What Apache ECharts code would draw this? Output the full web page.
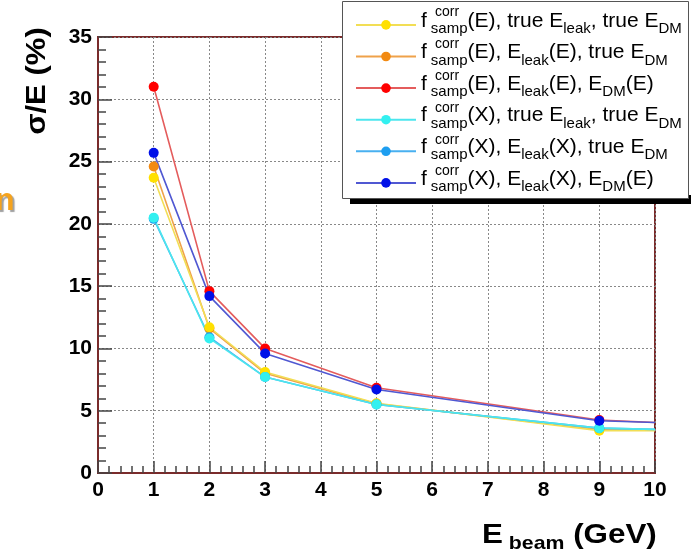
<!DOCTYPE html>
<html>
<head>
<meta charset="utf-8">
<script src="https://cdn.jsdelivr.net/npm/echarts@6/dist/echarts.min.js"></script>
<style>html,body{margin:0;padding:0;background:#fff}#c{width:691px;height:552px}</style>
</head>
<body>
<div id="c"></div>
<script>
// Beam energies (GeV)
const beamEnergy = [1, 2, 3, 5, 9, 10];
// sigma/E (%) for each reconstruction variant
const sampE_trueLeak_trueDM = [23.7, 11.7, 8.1, 5.6, 3.4, 3.4];
const sampE_leakE_trueDM    = [24.6, 11.6, 8.0, 5.55, 3.5, 3.45];
const sampE_leakE_dmE       = [31.0, 14.6, 10.0, 6.85, 4.25, 4.05];
const sampX_trueLeak_trueDM = [20.5, 10.8, 7.7, 5.5, 3.6, 3.5];
const sampX_leakX_trueDM    = [20.4, 10.9, 7.7, 5.5, 3.6, 3.5];
const sampX_leakX_dmE       = [25.7, 14.2, 9.6, 6.7, 4.2, 4.05];
// Axis ticks
const xTicks = {min: 0, max: 10, step: 1};
const yTicks = {min: 0, max: 35, step: 5};

const seriesDefs = [
  {name: 's1', data: sampE_trueLeak_trueDM, marker: '#FFE000', line: '#F2DE55', drawOrder: 1,
   label: '{m|f}{ss|samp}{m|(E), true E}{s|leak}{m|, true E}{s|DM}'},
  {name: 's2', data: sampE_leakE_trueDM, marker: '#F28A12', line: '#EFA24A', drawOrder: 0,
   label: '{m|f}{ss|samp}{m|(E), E}{s|leak}{m|(E), true E}{s|DM}'},
  {name: 's3', data: sampE_leakE_dmE, marker: '#FF0000', line: '#E45C5C', drawOrder: 2,
   label: '{m|f}{ss|samp}{m|(E), E}{s|leak}{m|(E), E}{s|DM}{m|(E)}'},
  {name: 's4', data: sampX_trueLeak_trueDM, marker: '#33F0F0', line: '#4CE6EE', drawOrder: 4,
   label: '{m|f}{ss|samp}{m|(X), true E}{s|leak}{m|, true E}{s|DM}'},
  {name: 's5', data: sampX_leakX_trueDM, marker: '#1E9EF0', line: '#48B0F0', drawOrder: 3,
   label: '{m|f}{ss|samp}{m|(X), E}{s|leak}{m|(X), true E}{s|DM}'},
  {name: 's6', data: sampX_leakX_dmE, marker: '#0010E8', line: '#5058D2', drawOrder: 5,
   label: '{m|f}{ss|samp}{m|(X), E}{s|leak}{m|(X), E}{s|DM}{m|(E)}'}
];
const labelMap = {};
seriesDefs.forEach(d => labelMap[d.name] = d.label);

const frameColor = '#7A2B2B';
const font = '"Liberation Sans", Arial, Helvetica, sans-serif';

const series = seriesDefs.slice().sort((a, b) => a.drawOrder - b.drawOrder).map(d => ({
  name: d.name,
  type: 'line',
  symbol: 'circle',
  symbolSize: 10,
  itemStyle: {color: d.marker},
  lineStyle: {color: d.line, width: 1.6},
  data: d.data.map((v, i) => ({
    value: [beamEnergy[i], v],
    symbol: i === beamEnergy.length - 1 ? 'none' : 'circle'
  })),
  animation: false
}));

const rowY0 = 25, rowGap = 31.8, rowH = 29.2;
const graphics = [
  // legend shadow + box
  {type: 'rect', z: 3, shape: {x: 350, y: 195, width: 345, height: 9}, style: {fill: '#000'}},
  {type: 'rect', z: 3, shape: {x: 342.5, y: 1.5, width: 346, height: 197}, style: {fill: '#fff', stroke: '#555', lineWidth: 1}},
  // y axis title
  {type: 'text', z: 5, x: 38, y: 81, rotation: Math.PI / 2, scaleX: 1.15,
   style: {text: 'σ/E (%)', font: 'bold 27px ' + font, fill: '#000', align: 'center', verticalAlign: 'middle'}},
  // x axis title
  {type: 'text', z: 5, x: 482, y: 537, scaleX: 1.12, originX: 0, originY: 0,
   style: {text: '{b|E}{bs| beam}{b| (GeV)}', fill: '#000', verticalAlign: 'middle',
     rich: {
       b: {font: 'bold 28px ' + font, lineHeight: 30, padding: [0, 0, 4, 0]},
       bs: {font: 'bold 19px ' + font, lineHeight: 30, padding: [14, 0, 0, 0]}
     }}},
  // cropped orange fragment at left edge
  {type: 'text', z: 5, x: -5, y: 185,
   style: {text: 'n', font: 'bold 32px ' + font, fill: '#F5A31E',
     textShadowColor: 'rgba(120,120,120,0.7)', textShadowOffsetX: 2, textShadowOffsetY: 2, textShadowBlur: 1}}
];
seriesDefs.forEach((d, i) => {
  graphics.push({type: 'text', z: 6, x: 435, y: rowY0 + i * rowGap - 12.5,
    style: {text: 'corr', font: '14px ' + font, fill: '#000', verticalAlign: 'middle'}});
});

const chart = echarts.init(document.getElementById('c'), null, {renderer: 'canvas'});
chart.setOption({
  backgroundColor: '#fff',
  animation: false,
  grid: {left: 98, right: 36, top: 37, bottom: 79, show: true, borderColor: frameColor, borderWidth: 2, backgroundColor: 'transparent'},
  xAxis: {
    type: 'value', min: xTicks.min, max: xTicks.max, interval: xTicks.step,
    axisLine: {show: true, onZero: false, lineStyle: {color: frameColor, width: 2}},
    axisTick: {show: true, inside: true, length: 12, lineStyle: {color: '#444', width: 1.5}},
    minorTick: {show: true, splitNumber: 5, length: 7, lineStyle: {color: '#444', width: 1.5}},
    splitLine: {show: true, lineStyle: {color: '#888', type: [2, 2], width: 1}},
    axisLabel: {color: '#000', fontFamily: font, fontWeight: 'bold', fontSize: 21, margin: 7}
  },
  yAxis: {
    type: 'value', min: yTicks.min, max: yTicks.max, interval: yTicks.step,
    axisLine: {show: true, onZero: false, lineStyle: {color: frameColor, width: 2}},
    axisTick: {show: true, inside: true, length: 14, lineStyle: {color: '#444', width: 1.5}},
    minorTick: {show: true, splitNumber: 5, length: 8, lineStyle: {color: '#444', width: 1.5}},
    splitLine: {show: true, lineStyle: {color: '#888', type: [2, 2], width: 1}},
    axisLabel: {color: '#000', fontFamily: font, fontWeight: 'bold', fontSize: 21, margin: 6}
  },
  legend: {
    show: true, orient: 'vertical', left: 355, top: rowY0 - rowH / 2, padding: 0,
    itemWidth: 60, itemHeight: 12, itemGap: rowGap - rowH, selectedMode: false, z: 5,
    data: seriesDefs.map(d => d.name),
    formatter: name => labelMap[name],
    textStyle: {
      color: '#000', fontFamily: font,
      rich: {
        m: {fontSize: 21, fontFamily: font, lineHeight: 24, padding: [0, 0, 8, 0]},
        s: {fontSize: 15, fontFamily: font, lineHeight: 24, padding: [8, 0, 0, 0]},
        ss: {fontSize: 15, fontFamily: font, lineHeight: 24, padding: [8, 0, 0, 4]}
      }
    }
  },
  graphic: graphics,
  series: series
});
</script>
</body>
</html>
